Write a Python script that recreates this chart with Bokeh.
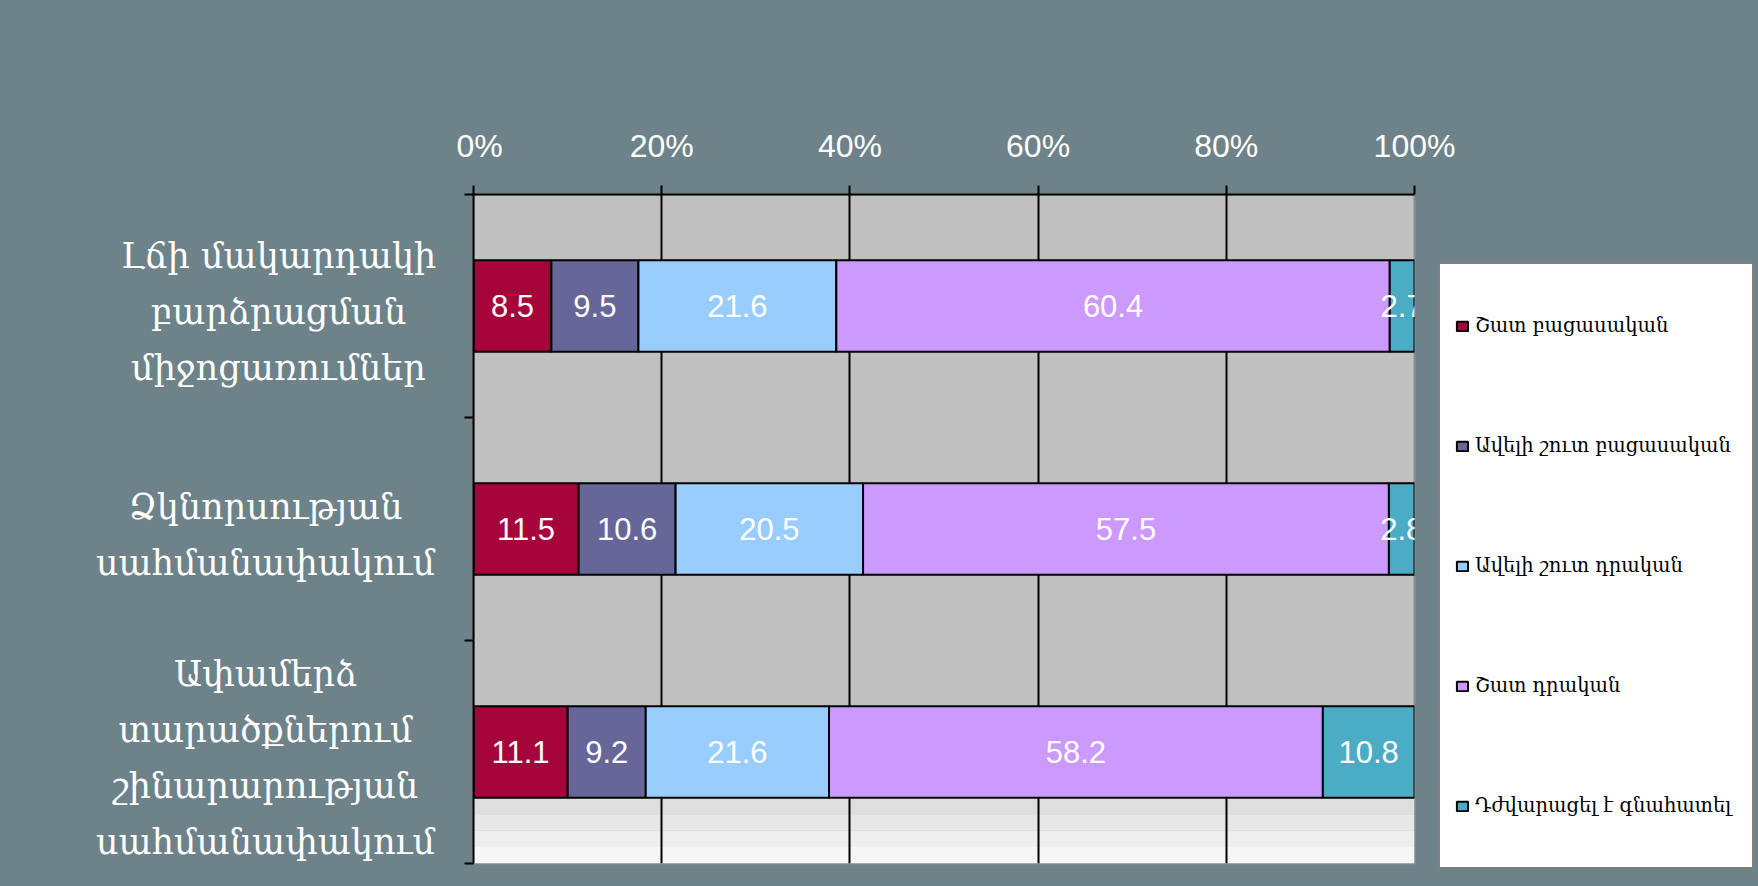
import numpy as np
from bokeh.plotting import figure
from bokeh.layouts import row
from bokeh.models import Range1d, FixedTicker, Legend, LegendItem, Label, ColumnDataSource
from bokeh.embed import file_html
from bokeh.resources import INLINE
from bokeh.core.properties import value

# ---------------- data ----------------
categories = [
    "Լճի մակարդակի\nբարձրացման\nմիջոցառումներ",
    "Ձկնորսության\nսահմանափակում",
    "Ափամերձ\nտարածքներում\nշինարարության\nսահմանափակում",
]
series_names = [
    "Շատ բացասական",
    "Ավելի շուտ բացասական",
    "Ավելի շուտ դրական",
    "Շատ դրական",
    "Դժվարացել է գնահատել",
]
very_negative = [8.5, 11.5, 11.1]
rather_negative = [9.5, 10.6, 9.2]
rather_positive = [21.6, 20.5, 21.6]
very_positive = [60.4, 57.5, 58.2]
hard_to_say = [2.7, 2.8, 10.8]
x_ticks = [0, 20, 40, 60, 80, 100]
x_tick_labels = ["0%", "20%", "40%", "60%", "80%", "100%"]

colors = ["#A6053B", "#666699", "#99CCFF", "#CC99FF", "#4BACC6"]
SLATE = "#6E8389"

series = [very_negative, rather_negative, rather_positive, very_positive, hard_to_say]
vals = np.array(series, dtype=float)            # (5 series, 3 categories)
pct = vals / vals.sum(axis=0) * 100.0           # 100% stacked
right = np.cumsum(pct, axis=0)
left = right - pct

n_cat = len(categories)
y_pos = [n_cat - i - 0.5 for i in range(n_cat)]  # first category on top
bar_h = 0.41

W, H = 1758, 886
TOP, FRAME_H, BOTTOM = 194, 669, 23
LEFT_W = 456

# ---------- left panel with the category names ----------
pl = figure(width=LEFT_W, frame_height=FRAME_H,
            x_range=Range1d(0, LEFT_W), y_range=Range1d(0, n_cat),
            x_axis_type=None, y_axis_type=None,
            output_backend="svg", toolbar_location=None,
            min_border_left=0, min_border_right=0,
            min_border_top=TOP, min_border_bottom=BOTTOM)
pl.grid.visible = False
pl.outline_line_color = None
pl.background_fill_color = SLATE
pl.border_fill_color = SLATE
cat_x = [278, 265, 265]
pl.text(x=cat_x, y=y_pos, text=categories, text_align="center", text_baseline="middle",
        text_color="white", text_font=value("DejaVu Serif"), text_font_size="35px",
        text_line_height=1.4, y_offset=6)

# ---------- main chart ----------
p = figure(frame_width=941, frame_height=FRAME_H,
           x_range=Range1d(0, 100), y_range=Range1d(0, n_cat),
           x_axis_location="above",
           output_backend="svg", toolbar_location=None,
           min_border_left=473 - LEFT_W, min_border_right=W - 473 - 941,
           min_border_top=TOP, min_border_bottom=BOTTOM)

p.background_fill_color = "#C0C0C0"
p.border_fill_color = SLATE
p.outline_line_color = "#8E8E8E"
p.outline_line_width = 2

# light lower band of the plot area (below the last bar)
band_edges = np.linspace(0, y_pos[-1] - bar_h / 2, 5)
band_colors = ["#F6F6F6", "#EEEEEE", "#E7E7E7", "#DEDEDE"]
p.quad(left=0, right=100, bottom=band_edges[:-1], top=band_edges[1:],
       fill_color=band_colors, line_color=None, level="image")

# axes
xa = p.xaxis[0]
xa.ticker = FixedTicker(ticks=x_ticks)
xa.major_label_overrides = {t: lab for t, lab in zip(x_ticks, x_tick_labels)}
xa.major_label_text_color = "white"
xa.major_label_text_font = "Liberation Sans"
xa.major_label_text_font_size = "32px"
xa.major_tick_out = 9
xa.major_tick_in = 0
xa.minor_tick_line_color = None
xa.axis_line_color = "black"
xa.axis_line_width = 2
xa.major_tick_line_width = 2
xa.major_tick_line_color = "black"
xa.major_label_standoff = 22

ya = p.yaxis[0]
y_ticks = list(range(n_cat + 1))
ya.ticker = FixedTicker(ticks=y_ticks)
ya.major_label_overrides = {t: "" for t in y_ticks}
ya.major_label_standoff = 0
ya.major_tick_out = 9
ya.major_tick_in = 0
ya.minor_tick_line_color = None
ya.axis_line_color = "black"
ya.axis_line_width = 2
ya.major_tick_line_width = 2

p.xgrid.ticker = FixedTicker(ticks=x_ticks[1:-1])
p.xgrid.grid_line_color = "black"
p.xgrid.grid_line_width = 2
p.ygrid.visible = False

# bars
items = []
for k, name in enumerate(series_names):
    src = ColumnDataSource(dict(y=y_pos, left=left[k], right=right[k]))
    r = p.hbar(y="y", left="left", right="right", height=bar_h, source=src,
               fill_color=colors[k], line_color="black", line_width=2)
    items.append(LegendItem(label=name, renderers=[r]))
    for j in range(n_cat):
        p.add_layout(Label(x=(left[k][j] + right[k][j]) / 2, y=y_pos[j],
                           text="%.1f" % vals[k][j], level="overlay",
                           text_align="center", text_baseline="middle",
                           text_color="white", text_font="Liberation Sans",
                           text_font_size="31px"))

legend = Legend(items=items, location=(24, -6), margin=0, padding=15,
                glyph_width=14, glyph_height=12, label_standoff=6,
                label_width=262, label_height=93, spacing=27,
                label_text_font="DejaVu Serif", label_text_font_size="19.5px",
                label_text_color="black",
                border_line_color="black", border_line_width=2,
                background_fill_color="white", background_fill_alpha=1.0)
p.add_layout(legend, "right")

layout = row(pl, p, styles={"background-color": SLATE})
open("out.html", "w").write(file_html(layout, INLINE))
